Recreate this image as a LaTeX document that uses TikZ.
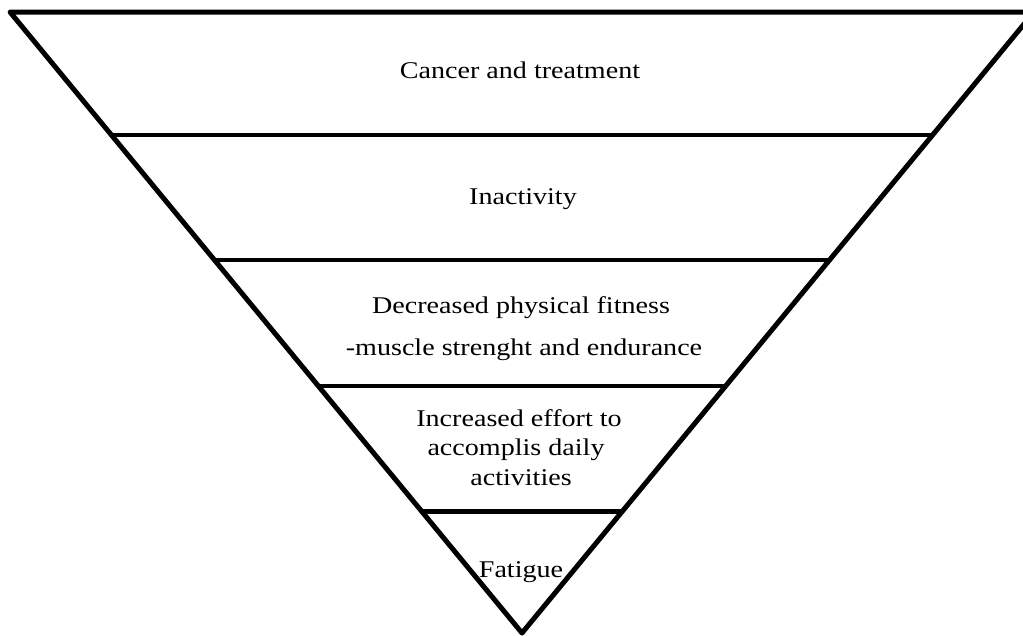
\documentclass[tikz,border=0pt]{standalone}
\usepackage{fontspec}
\setmainfont{Liberation Serif}
\usetikzlibrary{calc}
\begin{document}
\begin{tikzpicture}[x=1pt,y=-1pt,
  edge/.style={line width=5pt,line cap=round,line join=round,black},
  level/.style={line width=4.5pt,black},
  lbl/.style={anchor=base,inner sep=0pt,xscale=1.17,transform shape,
    font=\fontsize{24}{28}\selectfont}]
\useasboundingbox (0,0) rectangle (1023,635);
\clip (0,0) rectangle (1023,635);
\coordinate (TL) at (10,12);
\coordinate (TR) at (1034,12);
\coordinate (A) at (522,633);
% horizontal levels
\foreach \t/\n in {0.198/1,0.399/2,0.602/3,0.804/4}{
  \coordinate (L\n) at ($(TL)!\t!(A)$);
  \coordinate (R\n) at ($(TR)!\t!(A)$);
  \draw[level] (L\n) -- (R\n);
}
\draw[edge] (TR) -- (TL) -- (A) -- (TR);
% labels
\node[lbl] (t1) at (520,78) {Cancer and treatment};
\node[lbl] (t2) at (523,204) {Inactivity};
\node[lbl] (t3a) at (521,313) {Decreased physical fitness};
\node[lbl] (t3b) at (524,355) {-muscle strenght and endurance};
\node[lbl] (t4a) at (519,426) {Increased effort to};
\node[lbl] (t4b) at (516,455) {accomplis daily};
\node[lbl] (t4c) at (521,485) {activities};
\node[lbl] (t5) at (521,577) {Fatigue};
\end{tikzpicture}
\end{document}
